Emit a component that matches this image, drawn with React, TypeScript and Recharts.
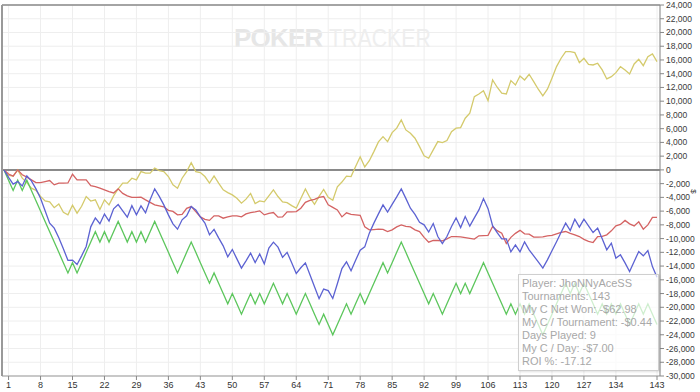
import { LineChart, Line, XAxis, YAxis, CartesianGrid, ReferenceLine } from 'recharts'

// x axis: tournament number (0 = start point)
const tournamentTicks = [1, 8, 15, 22, 29, 36, 43, 50, 57, 64, 71, 78, 85, 92, 99, 106, 113, 120, 127, 134, 143]
const yTicks = [
  -30000, -28000, -26000, -24000, -22000, -20000, -18000, -16000, -14000, -12000, -10000, -8000, -6000, -4000,
  -2000, 0, 2000, 4000, 6000, 8000, 10000, 12000, 14000, 16000, 18000, 20000, 22000, 24000,
]

const greenSeries = [
  0, -1500, -3000, -1500, -3000, -1500, -3000, -4500, -6000, -7500, -9000, -10500,
  -12000, -13500, -15000, -13500, -15000, -13500, -12000, -10500, -9000, -10500, -9000, -10500,
  -9000, -7500, -9000, -10500, -9000, -10500, -9000, -10500, -9000, -7500, -9000, -10500,
  -12000, -13500, -15000, -13500, -12000, -10500, -12000, -13500, -15000, -16500, -15000, -16500,
  -18000, -19500, -18000, -19500, -21000, -19500, -18000, -19500, -18000, -19500, -18000, -16500,
  -18000, -19500, -18000, -19500, -21000, -19500, -18000, -19500, -21000, -22500, -21000, -22500,
  -24000, -22500, -21000, -19500, -21000, -19500, -18000, -19500, -18000, -16500, -15000, -13500,
  -15000, -13500, -12000, -10500, -12000, -13500, -15000, -16500, -18000, -19500, -18000, -19500,
  -21000, -19500, -18000, -16500, -18000, -16500, -18000, -16500, -15000, -13500, -15000, -16500,
  -18000, -19500, -21000, -19500, -21000, -19500, -21000, -19500, -21000, -22500, -24000, -22500,
  -21000, -19500, -18000, -16500, -18000, -16500, -18000, -16500, -18000, -19500, -21000, -19500,
  -21000, -19500, -21000, -19500, -21000, -22500, -21000, -19500, -21000, -19500, -21000, -22500,
]

const blueSeries = [
  0, -1100, -2080, -1700, -2330, -870, -1600, -2760, -4120, -5960, -7750, -8480,
  -9890, -11490, -13160, -13130, -13770, -12510, -11150, -8290, -6980, -7830, -6430, -7450,
  -5670, -5050, -5960, -6880, -5210, -6550, -5240, -6250, -4360, -2760, -3850, -5090,
  -6550, -7850, -8630, -7270, -6690, -5340, -5820, -6840, -7750, -9450, -8650, -9890,
  -11050, -12650, -11590, -12950, -14300, -13240, -12120, -13480, -12250, -13670, -11390, -10520,
  -11240, -12730, -12000, -13530, -15080, -14250, -13530, -15270, -17020, -18740, -17340, -17570,
  -18720, -16580, -14370, -13380, -14690, -13160, -11690, -11200, -9210, -7750, -6400, -5090,
  -6140, -5020, -3930, -2760, -4150, -5570, -6470, -7640, -8000, -9050, -7810, -9700,
  -10720, -9700, -8250, -6980, -8390, -6790, -8190, -6980, -5820, -4170, -5640, -8120,
  -9140, -10040, -10040, -11930, -10910, -11930, -10470, -11640, -12510, -13380, -14300, -13090,
  -11780, -10470, -9090, -7750, -8830, -7170, -8330, -7170, -8150, -9120, -8480, -10040,
  -11640, -10660, -12840, -12360, -13530, -14790, -13340, -11880, -12510, -11740, -14070, -15610,
]

const redSeries = [
  0, -600, -900, 0, -700, -1060, -1450, -1850, -1850, -1700, -1550, -2180,
  -1930, -1930, -1900, -630, -1450, -1450, -1450, -2280, -2430, -2660, -2900, -3160,
  -3350, -2760, -3420, -3780, -4000, -4000, -3970, -4360, -4730, -5090, -5240, -5380,
  -5890, -6040, -6550, -6470, -5600, -5340, -6070, -6840, -7200, -7350, -6690, -6690,
  -7030, -6840, -6690, -6690, -6840, -6400, -6210, -6110, -5960, -6550, -6330, -6210,
  -6880, -6840, -6110, -6110, -6070, -5570, -4730, -4440, -4290, -4000, -3880, -5090,
  -5450, -5820, -6840, -6250, -6470, -6550, -6620, -8290, -8730, -8680, -8630, -8650,
  -8970, -8730, -8290, -8000, -8220, -8290, -8730, -8970, -9820, -10520, -10250, -10280,
  -10330, -10040, -9700, -9700, -9750, -9850, -9960, -10080, -9600, -9570, -9530, -8250,
  -8840, -9210, -10720, -9820, -9240, -8800, -9310, -9350, -9790, -9790, -9750, -9600,
  -9530, -9310, -9090, -8970, -9240, -9450, -9700, -10110, -10400, -10570, -9700, -9670,
  -9450, -8870, -8150, -7930, -7350, -7850, -8150, -7560, -8630, -8000, -6910, -6910,
]

const yellowSeries = [
  0, -800, -900, 0, -1200, -1850, -2660, -2980, -3850, -4510, -4650, -5500,
  -4950, -6180, -6550, -5130, -6300, -5300, -3880, -4540, -4360, -5770, -4360, -5090,
  -3780, -2760, -1930, -1930, -1210, -1450, -250, -480, -480, 250, -100, -250,
  -970, -2180, -2660, -1210, -250, 1060, -250, -390, -970, -1930, -870, -1930,
  -2910, -3300, -3640, -4120, -4840, -4260, -3430, -4890, -4510, -4650, -3780, -2910,
  -3880, -4650, -4760, -5200, -5570, -4150, -2760, -4050, -5020, -3850, -2840, -4000,
  -4410, -2470, -1770, -920, -970, 500, 1900, 420, 1340, 2660, 4070, 4840,
  4120, 5430, 6070, 7270, 5820, 5340, 4610, 3390, 2040, 1700, 2910, 4120,
  3970, 4260, 5570, 6070, 6150, 7520, 8250, 10660, 11050, 11530, 10080, 13090,
  12030, 11160, 11050, 12990, 12360, 13670, 13090, 13920, 12840, 11740, 10760, 11740,
  13340, 15030, 16250, 17210, 17210, 17060, 15610, 16250, 15370, 15270, 15520, 14550,
  13240, 13570, 14150, 15030, 14550, 13960, 15420, 16100, 15170, 16480, 16870, 15750,
]

const tooltipLines = [
  'Player: JhoNNyAceSS',
  'Tournaments: 143',
  'My C Net Won: -$62.98',
  'My C / Tournament: -$0.44',
  'Days Played: 9',
  'My C / Day: -$7.00',
  'ROI %: -17.12',
]

const chartData = greenSeries.map((g, i) => ({
  t: i,
  yellow: yellowSeries[i],
  green: g,
  red: redSeries[i],
  blue: blueSeries[i],
}))

const font = '"Liberation Sans", Arial, sans-serif'

export default function App() {
  return (
    <div style={{ position: 'absolute', left: 0, top: 0, width: 700, height: 392, background: '#fff', overflow: 'hidden', fontFamily: font }}>
      {/* watermark */}
      <div style={{ position: 'absolute', left: 234, top: 23, fontSize: 26, lineHeight: '30px', whiteSpace: 'nowrap' }}>
        <span style={{ fontWeight: 700, color: '#e6e6e6', letterSpacing: -0.8 }}>POKER</span>
        <span
          style={{
            display: 'inline-block',
            fontWeight: 400,
            color: '#eeeeee',
            marginLeft: 7,
            transform: 'scaleX(0.82)',
            transformOrigin: 'left center',
          }}
        >
          TRACKER
        </span>
      </div>
      <div style={{ position: 'absolute', left: 0, top: 0 }}>
        <LineChart width={700} height={392} data={chartData} margin={{ top: 5, right: 0, bottom: 0, left: 2 }}>
          <CartesianGrid stroke="#eeeeee" />
          <XAxis
            dataKey="t"
            type="number"
            domain={[0, 143]}
            ticks={tournamentTicks}
            interval={0}
            padding={{ left: 2, right: 3 }}
            height={16}
            tickSize={4}
            tick={{ fontSize: 9, fill: '#333', fontFamily: font }}
            tickLine={{ stroke: '#888' }}
            axisLine={{ stroke: '#999' }}
          />
          <YAxis
            orientation="right"
            domain={[-30000, 24000]}
            ticks={yTicks}
            interval={0}
            width={40}
            tickSize={4}
            tickFormatter={(v: number) => v.toLocaleString('en-US')}
            tick={{ fontSize: 8.5, fill: '#3a3a3a', fontFamily: font }}
            tickLine={{ stroke: '#888' }}
            axisLine={{ stroke: '#888' }}
          />
          <ReferenceLine y={24000} stroke="#888" strokeWidth={1.5} />
          <ReferenceLine y={0} stroke="#666" strokeWidth={1.5} />
          <Line type="linear" dataKey="yellow" stroke="#d4ca6c" strokeWidth={1.3} dot={false} isAnimationActive={false} />
          <Line type="linear" dataKey="green" stroke="#5cc65c" strokeWidth={1.3} dot={false} isAnimationActive={false} />
          <Line type="linear" dataKey="red" stroke="#d46363" strokeWidth={1.3} dot={false} isAnimationActive={false} />
          <Line type="linear" dataKey="blue" stroke="#5c62d2" strokeWidth={1.3} dot={false} isAnimationActive={false} />
        </LineChart>
      </div>
      {/* left frame */}
      <div style={{ position: 'absolute', left: 1, top: 5, width: 1.5, height: 371, background: '#999' }} />
      {/* axis unit */}
      <div style={{ position: 'absolute', left: 691, top: 187, fontSize: 8, color: '#333', transform: 'rotate(90deg)' }}>$</div>
      {/* tooltip */}
      <div
        style={{
          position: 'absolute',
          left: 518,
          top: 274,
          width: 141,
          height: 97,
          border: '1px solid #cfcfcf',
          background: 'rgba(255,255,255,0.7)',
          boxShadow: '1px 1px 2px rgba(0,0,0,0.12)',
          color: '#a8a8a8',
          fontSize: 11,
          lineHeight: '13px',
          padding: '2px 0 0 3px',
          boxSizing: 'border-box',
          whiteSpace: 'nowrap',
        }}
      >
        {tooltipLines.map((line) => (
          <div key={line}>{line}</div>
        ))}
      </div>
    </div>
  )
}
